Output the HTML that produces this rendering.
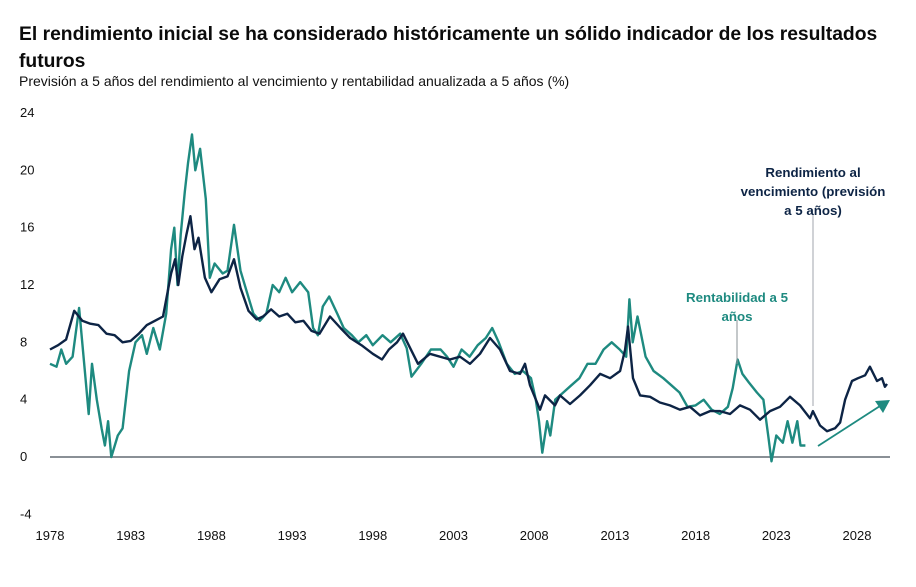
<!DOCTYPE html>
<html><head><meta charset="utf-8">
<style>
body{margin:0;background:#fff;font-family:"Liberation Sans",sans-serif;}
#wrap{position:relative;width:916px;height:587px;overflow:hidden;}
.t{position:absolute;left:19px;font-weight:bold;font-size:19.3px;color:#0b0b0b;line-height:27px;}
.s{position:absolute;left:19px;top:73px;font-size:14px;color:#111;}
</style></head><body>
<div id="wrap">
<div class="t" style="top:21px">El rendimiento inicial se ha considerado históricamente un sólido indicador de los resultados<br>futuros</div>
<div class="s">Previsión a 5 años del rendimiento al vencimiento y rentabilidad anualizada a 5 años (%)</div>
<svg id="chart" width="916" height="587" style="position:absolute;left:0;top:0"></svg>
</div>
<script>
const yTicks=[24,20,16,12,8,4,0,-4];
const xTicks=[1978,1983,1988,1993,1998,2003,2008,2013,2018,2023,2028];
const yieldDates=[1978.0,1978.5,1979.0,1979.5,1980.0,1980.5,1981.0,1981.5,1982.0,1982.5,1983.0,1983.5,1984.0,1984.5,1985.0,1985.5,1985.75,1985.95,1986.2,1986.45,1986.7,1986.95,1987.2,1987.6,1988.0,1988.5,1989.0,1989.4,1989.8,1990.3,1990.8,1991.2,1991.7,1992.2,1992.7,1993.2,1993.7,1994.2,1994.7,1995.35,1996.0,1996.6,1997.3,1998.0,1998.57,1999.0,1999.5,1999.87,2000.8,2001.54,2002.78,2003.4,2004.02,2004.64,2005.26,2005.88,2006.5,2007.12,2007.43,2007.74,2008.36,2008.67,2009.29,2009.6,2010.22,2010.84,2011.46,2012.08,2012.7,2013.32,2013.63,2013.81,2014.12,2014.56,2015.18,2015.79,2016.41,2017.03,2017.65,2018.27,2018.89,2019.51,2020.13,2020.75,2021.37,2021.99,2022.61,2023.23,2023.85,2024.47,2025.09,2025.27,2025.71,2026.14,2026.64,2026.95,2027.26,2027.69,2028.06,2028.5,2028.8,2029.24,2029.55,2029.73,2029.86];
const yieldValues=[7.5,7.8,8.2,10.2,9.5,9.3,9.2,8.6,8.5,8.0,8.1,8.6,9.2,9.5,9.8,12.8,13.8,12.0,14.0,15.5,16.8,14.5,15.3,12.5,11.5,12.4,12.6,13.8,11.8,10.2,9.6,9.8,10.3,9.8,10.0,9.4,9.5,8.8,8.6,9.8,9.0,8.3,7.8,7.2,6.8,7.5,8.0,8.6,6.5,7.2,6.8,7.0,6.5,7.2,8.3,7.5,6.0,5.8,6.5,5.0,3.3,4.3,3.6,4.3,3.7,4.3,5.0,5.8,5.5,6.0,7.5,9.1,5.5,4.3,4.2,3.8,3.6,3.3,3.5,2.9,3.2,3.2,3.0,3.6,3.3,2.6,3.2,3.5,4.2,3.6,2.7,3.2,2.2,1.8,2.0,2.4,4.0,5.3,5.5,5.7,6.3,5.3,5.5,4.9,5.1];
const returnDates=[1978.0,1978.4,1978.7,1979.0,1979.4,1979.8,1980.2,1980.4,1980.6,1980.9,1981.2,1981.4,1981.6,1981.8,1982.2,1982.5,1982.9,1983.3,1983.7,1984.0,1984.4,1984.8,1985.2,1985.5,1985.7,1985.9,1986.1,1986.35,1986.55,1986.8,1987.0,1987.3,1987.65,1987.9,1988.2,1988.7,1989.0,1989.4,1989.8,1990.2,1990.6,1991.0,1991.4,1991.8,1992.2,1992.6,1993.0,1993.5,1994.0,1994.3,1994.6,1994.9,1995.3,1995.8,1996.2,1996.7,1997.1,1997.6,1998.0,1998.6,1999.1,1999.7,2000.1,2000.4,2001.0,2001.6,2002.2,2002.6,2003.0,2003.5,2004.0,2004.5,2005.0,2005.4,2005.8,2006.3,2006.8,2007.3,2007.8,2008.1,2008.3,2008.5,2008.8,2009.0,2009.3,2009.8,2010.3,2010.8,2011.3,2011.8,2012.3,2012.8,2013.3,2013.7,2013.9,2014.1,2014.4,2014.9,2015.4,2016.0,2016.5,2017.0,2017.5,2018.0,2018.5,2019.0,2019.5,2020.0,2020.3,2020.6,2020.9,2021.3,2021.8,2022.2,2022.5,2022.7,2023.0,2023.4,2023.7,2024.0,2024.3,2024.5,2024.8];
const returnValues=[6.5,6.3,7.5,6.5,7.0,10.4,5.5,3.0,6.5,4.0,2.0,0.8,2.5,0.0,1.5,2.0,6.0,8.0,8.5,7.2,9.0,7.5,10.0,14.5,16.0,12.0,15.5,18.5,20.5,22.5,20.0,21.5,18.0,12.5,13.5,12.8,13.0,16.2,13.0,11.5,10.0,9.5,10.0,12.0,11.5,12.5,11.5,12.2,11.5,9.0,8.5,10.5,11.2,10.0,9.0,8.5,8.0,8.5,7.8,8.5,8.0,8.6,7.6,5.6,6.5,7.5,7.5,7.0,6.3,7.5,7.0,7.8,8.3,9.0,8.0,6.5,5.8,6.0,5.5,4.0,2.5,0.3,2.5,1.5,4.0,4.5,5.0,5.5,6.5,6.5,7.5,8.0,7.5,7.0,11.0,8.0,9.8,7.0,6.0,5.5,5.0,4.5,3.5,3.6,4.0,3.3,3.0,3.5,4.8,6.8,5.8,5.2,4.5,4.0,1.5,-0.3,1.5,1.0,2.5,1.0,2.5,0.8,0.8];

const NS='http://www.w3.org/2000/svg';
const svg=document.getElementById('chart');
function X(yr){return 50+(yr-1978)*(807/50);}
function Y(v){return 457-v*(344/24);}
function mk(tag,attrs,parent){const e=document.createElementNS(NS,tag);for(const k in attrs)e.setAttribute(k,attrs[k]);(parent||svg).appendChild(e);return e;}

yTicks.forEach(v=>{
  const t=mk('text',{x:20,y:Y(v)+4,'font-size':13,fill:'#111','font-family':'Liberation Sans, sans-serif'});
  t.textContent=v;
  
  
});
xTicks.forEach(v=>{
  const t=mk('text',{x:X(v),y:540,'font-size':13,fill:'#111','text-anchor':'middle','font-family':'Liberation Sans, sans-serif'});
  t.textContent=v;
  
  
});
const base=mk('line',{x1:50,x2:890,y1:Y(0),y2:Y(0),stroke:'#8a9096','stroke-width':2});



function pts(d,v){return d.map((yr,i)=>X(yr).toFixed(1)+','+Y(v[i]).toFixed(1)).join(' ');}
const ret=mk('polyline',{points:pts(returnDates,returnValues),fill:'none',stroke:'#1e8a80','stroke-width':2.4,'stroke-linejoin':'round'});


const yl=mk('polyline',{points:pts(yieldDates,yieldValues),fill:'none',stroke:'#0d2445','stroke-width':2.4,'stroke-linejoin':'round'});



const l1=mk('line',{x1:813,x2:813,y1:214,y2:406,stroke:'#c0c4c8','stroke-width':1.5});


const l2=mk('line',{x1:737,x2:737,y1:320,y2:364,stroke:'#8a9096','stroke-width':1});


[['Rendimiento al',813,177],['vencimiento (previsión',813,196],['a 5 años)',813,215]].forEach(a=>{
  const t=mk('text',{x:a[1],y:a[2],'font-size':13.3,'font-weight':'bold',fill:'#0d2445','text-anchor':'middle','font-family':'Liberation Sans, sans-serif'});
  t.textContent=a[0];
  
  
});
[['Rentabilidad a 5',737,302],['años',737,321]].forEach(a=>{
  const t=mk('text',{x:a[1],y:a[2],'font-size':13.3,'font-weight':'bold',fill:'#1e8a80','text-anchor':'middle','font-family':'Liberation Sans, sans-serif'});
  t.textContent=a[0];
  
  
});
const ar=mk('line',{x1:818,y1:446,x2:880,y2:406,stroke:'#1e8a80','stroke-width':1.8});


const ah=mk('polygon',{points:'890,400 875,401 883,413',fill:'#1e8a80'});


</script>
</body></html>
